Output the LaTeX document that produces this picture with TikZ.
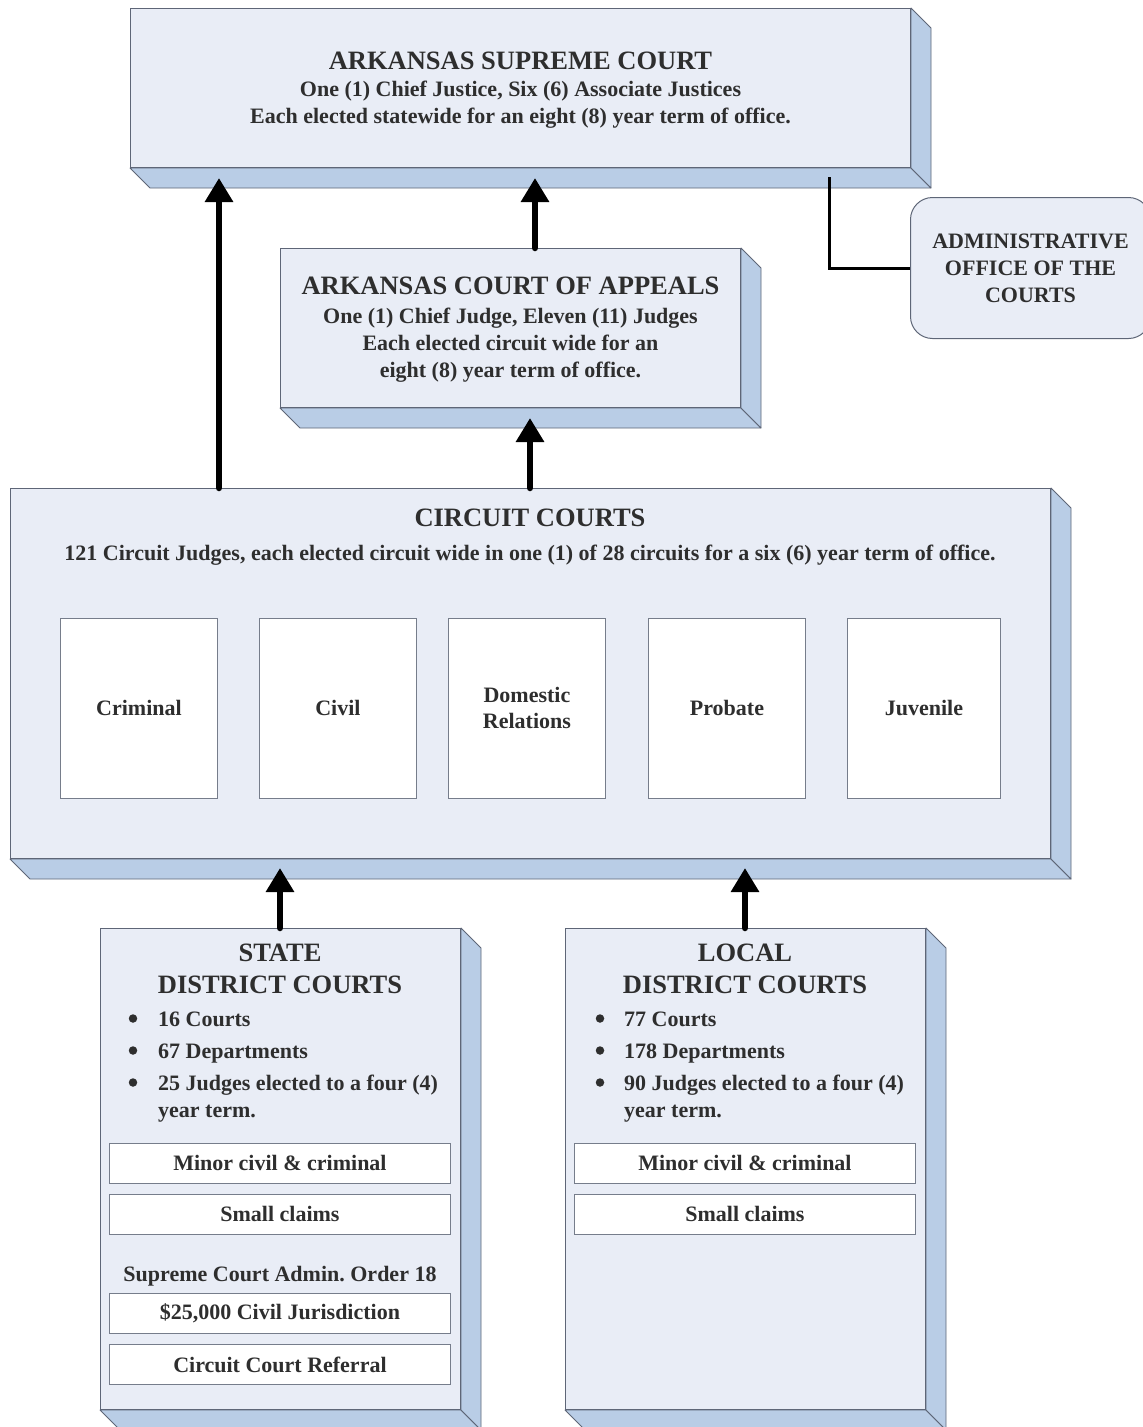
\documentclass[tikz,border=0pt]{standalone}
\usepackage{fontspec}
\setmainfont{Liberation Serif}
\usetikzlibrary{arrows.meta,calc}
\definecolor{frontc}{HTML}{E9EDF6}
\definecolor{sidec}{HTML}{B9CDE6}
\definecolor{edgec}{HTML}{5E6677}
\definecolor{txtc}{HTML}{2E2E2E}
\newcommand\ttlf{\fontsize{26.5}{32}\selectfont\bfseries}
\newcommand\bodyf{\fontsize{22}{27}\selectfont\bfseries}
\newcommand\admf{\fontsize{22}{27}\selectfont\bfseries}
\newcommand\depthfaces[2]{%
  \draw[side] (#1.south west) -- (#1.south east) -- ($(#1.south east)+(#2,#2)$) -- ($(#1.south west)+(#2,#2)$) -- cycle;
  \draw[side] (#1.north east) -- ($(#1.north east)+(#2,#2)$) -- ($(#1.south east)+(#2,#2)$) -- (#1.south east) -- cycle;}
\tikzset{
  front/.style={draw=edgec, fill=frontc, line width=1pt, inner sep=0pt, anchor=north west, font=\bodyf, text=txtc, align=center},
  side/.style={draw=edgec, fill=sidec, line width=0.8pt, line join=round},
  inbox/.style={draw=edgec!85, fill=white, line width=0.9pt, inner sep=0pt, anchor=north west, font=\bodyf, text=txtc, align=center},
  lbl/.style={font=\bodyf, text=txtc, inner sep=0pt},
  ttl/.style={font=\ttlf, text=txtc, inner sep=0pt, anchor=base},
  dot/.style={circle, fill=txtc, minimum size=8.5pt, inner sep=0pt},
  arr/.style={line width=6.5pt, line cap=round, -{Triangle[width=27pt,length=24pt]}},
  conn/.style={line width=3pt, draw=black},
}
\frenchspacing
\begin{document}
\frenchspacing
\begin{tikzpicture}[x=1pt,y=-1pt]
\useasboundingbox (0,0) rectangle (1143,1427);
% Supreme Court
\node[front, minimum width=780pt, minimum height=159pt] (sup) at (130,8) {};
\depthfaces{sup}{20}
\node[lbl, align=center] (supt) at ($(sup.center)+(0,2)$)
  {{\ttlf ARKANSAS SUPREME COURT}\\One (1) Chief Justice, Six (6) Associate Justices\\Each elected statewide for an eight (8) year term of office.};
% Administrative Office
\node[draw=edgec, fill=frontc, line width=1pt, rounded corners=22pt, inner sep=0pt, anchor=north west,
  minimum width=240pt, minimum height=141pt, font=\admf, text=txtc, align=center] (adm) at (910,197)
  {ADMINISTRATIVE\\OFFICE OF THE\\COURTS};
% Court of Appeals
\node[front, minimum width=460pt, minimum height=159pt] (app) at (280,248) {};
\depthfaces{app}{20}
\node[lbl, align=center] (appt) at ($(app.center)+(0,2)$)
  {{\ttlf ARKANSAS COURT OF APPEALS}\\[2pt]One (1) Chief Judge, Eleven (11) Judges\\Each elected circuit wide for an\\eight (8) year term of office.};
% Circuit Courts
\node[front, minimum width=1040pt, minimum height=370pt] (circ) at (10,488) {};
\depthfaces{circ}{20}
\node[ttl] (ctitle) at (530,526) {CIRCUIT COURTS};
\node[lbl, anchor=base] (csub) at (530,560) {121 Circuit Judges, each elected circuit wide in one (1) of 28 circuits for a six (6) year term of office.};
\node[inbox, minimum width=157pt, minimum height=180pt] (crim) at (60,618) {Criminal};
\node[inbox, minimum width=157pt, minimum height=180pt] (civ) at (259,618) {Civil};
\node[inbox, minimum width=157pt, minimum height=180pt, font=\fontsize{22}{26}\selectfont\bfseries] (dom) at (448,618) {Domestic\\Relations};
\node[inbox, minimum width=157pt, minimum height=180pt] (prob) at (648,618) {Probate};
\node[inbox, minimum width=153pt, minimum height=180pt] (juv) at (847,618) {Juvenile};
% State District Courts
\node[front, minimum width=360pt, minimum height=481pt] (sdc) at (100,928) {};
\depthfaces{sdc}{20}
\node[ttl] (st1) at (280,961) {STATE};
\node[ttl] (st2) at (280,993) {DISTRICT COURTS};
\node[dot] (sb1) at (133,1018.5) {};
\node[lbl, anchor=base west] (sl1) at (158,1026) {16 Courts};
\node[dot] (sb2) at (133,1050.5) {};
\node[lbl, anchor=base west] (sl2) at (158,1058) {67 Departments};
\node[dot] (sb3) at (133,1082.5) {};
\node[lbl, anchor=base west] (sl3) at (158,1090) {25 Judges elected to a four (4)};
\node[lbl, anchor=base west] (sl4) at (158,1117) {year term.};
\node[inbox, minimum width=341pt, minimum height=40pt] (sm1) at (109,1143) {Minor civil \& criminal};
\node[inbox, minimum width=341pt, minimum height=40pt] (sm2) at (109,1194) {Small claims};
\node[lbl, anchor=base] (sord) at (280,1281) {Supreme Court Admin.\ Order 18};
\node[inbox, minimum width=341pt, minimum height=40pt] (sm3) at (109,1293) {\$25,000 Civil Jurisdiction};
\node[inbox, minimum width=341pt, minimum height=40pt] (sm4) at (109,1344) {Circuit Court Referral};
% Local District Courts
\node[front, minimum width=360pt, minimum height=481pt] (ldc) at (565,928) {};
\depthfaces{ldc}{20}
\node[ttl] (lt1) at (745,961) {LOCAL};
\node[ttl] (lt2) at (745,993) {DISTRICT COURTS};
\node[dot] (lb1) at (600,1018.5) {};
\node[lbl, anchor=base west] (ll1) at (624,1026) {77 Courts};
\node[dot] (lb2) at (600,1050.5) {};
\node[lbl, anchor=base west] (ll2) at (624,1058) {178 Departments};
\node[dot] (lb3) at (600,1082.5) {};
\node[lbl, anchor=base west] (ll3) at (624,1090) {90 Judges elected to a four (4)};
\node[lbl, anchor=base west] (ll4) at (624,1117) {year term.};
\node[inbox, minimum width=341pt, minimum height=40pt] (lm1) at (574,1143) {Minor civil \& criminal};
\node[inbox, minimum width=341pt, minimum height=40pt] (lm2) at (574,1194) {Small claims};
% Arrows
\coordinate (t1) at (219,178);
\coordinate (t2) at (535,178);
\coordinate (t3) at (530,418);
\coordinate (t4) at (280,868);
\coordinate (t5) at (745,868);
\draw[arr] (circ.north -| t1) -- (t1);
\draw[arr] (app.north -| t2) -- (t2);
\draw[arr] (circ.north -| t3) -- (t3);
\draw[arr] (sdc.north -| t4) -- (t4);
\draw[arr] (ldc.north -| t5) -- (t5);
% Connector to administrative office
\coordinate (c0) at (829,177);
\draw[conn] (c0) |- (adm.west);
\end{tikzpicture}
\end{document}
